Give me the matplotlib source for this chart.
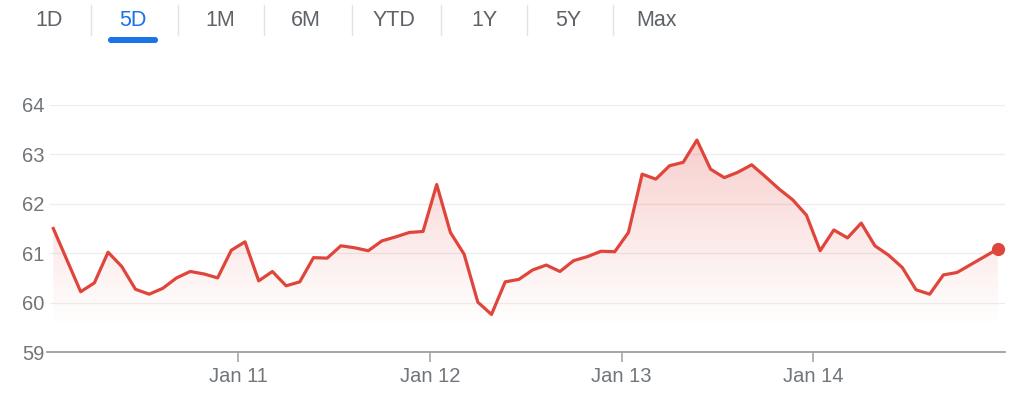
import numpy as np
import matplotlib
matplotlib.use("Agg")
import matplotlib.pyplot as plt
from matplotlib.patches import FancyBboxPatch, Polygon
from matplotlib.lines import Line2D
from matplotlib.transforms import IdentityTransform

# ---- data ----
prices = [61.50, 60.86, 60.22, 60.40, 61.02, 60.73, 60.27, 60.17, 60.29, 60.50,
          60.63, 60.58, 60.50, 61.06, 61.23, 60.44, 60.63, 60.34, 60.42, 60.91,
          60.90, 61.15, 61.11, 61.05, 61.25, 61.33, 61.42, 61.44, 62.39, 61.42,
          60.98, 60.01, 59.76, 60.42, 60.47, 60.66, 60.76, 60.63, 60.85, 60.93,
          61.04, 61.03, 61.42, 62.60, 62.50, 62.77, 62.84, 63.29, 62.70, 62.53,
          62.64, 62.79, 62.55, 62.30, 62.08, 61.77, 61.05, 61.47, 61.31, 61.61,
          61.15, 60.96, 60.71, 60.26, 60.17, 60.56, 60.61, 60.77, 60.93, 61.09]
points_per_day = 14
day_labels = ["Jan 11", "Jan 12", "Jan 13", "Jan 14"]
y_ticks = [59, 60, 61, 62, 63, 64]
tabs = ["1D", "5D", "1M", "6M", "YTD", "1Y", "5Y", "Max"]
active_tab = "5D"

# ---- style ----
W, H = 1024, 393
RED = "#e0453b"
GRAY_TXT = "#70757a"
TAB_TXT = "#5f6368"
BLUE = "#1a73e8"
plt.rcParams["font.family"] = ["Liberation Sans", "DejaVu Sans"]

fig = plt.figure(figsize=(W / 100, H / 100), dpi=100)
fig.patch.set_facecolor("white")

ax = fig.add_axes([47 / W, 41 / H, (1005 - 47) / W, (352 - 105) / H])
x = np.arange(len(prices))
y = np.array(prices)

ax.set_xlim(-0.46, len(prices) - 0.5)
ax.set_ylim(y_ticks[0], y_ticks[-1])

# grid lines
for v in y_ticks[1:]:
    ax.axhline(v, color="#ededed", lw=0.9, zorder=0, xmin=0.003)

# gradient fill
y0 = y_ticks[0]
ny = 256
ytop = y.max()
img_y = np.linspace(y0, ytop, ny)
alpha = np.clip((img_y - 59.5) / (ytop - 59.5), 0, 1) ** 1.1 * 0.26
rgba = np.zeros((ny, 2, 4))
rgba[..., 0] = 0.88
rgba[..., 1] = 0.27
rgba[..., 2] = 0.23
rgba[..., 3] = alpha[:, None]
im = ax.imshow(rgba, extent=[x[0], x[-1], y0, ytop], origin="lower",
               aspect="auto", zorder=1, interpolation="bilinear")
verts = np.vstack([[x[0], y0], np.column_stack([x, y]), [x[-1], y0]])
poly = Polygon(verts, closed=True, facecolor="none", edgecolor="none")
ax.add_patch(poly)
im.set_clip_path(poly)

ax.plot(x, y, color=RED, lw=2.3, zorder=3, solid_joinstyle="round")
ax.plot([x[-1]], [y[-1]], "o", color=RED, ms=8.5, zorder=4, clip_on=False)

# spines / ticks
for s in ["top", "right", "left"]:
    ax.spines[s].set_visible(False)
ax.spines["bottom"].set_color("#9aa0a6")
ax.spines["bottom"].set_linewidth(1.3)
ax.set_yticks(y_ticks)
ax.set_yticklabels([str(v) for v in y_ticks])
ax.tick_params(axis="y", length=0, pad=2, labelsize=14.5, labelcolor=GRAY_TXT)
tick_pos = [points_per_day * (k + 1) - 0.5 for k in range(len(day_labels))]
ax.set_xticks(tick_pos)
ax.set_xticklabels(day_labels)
ax.tick_params(axis="x", length=7.5, width=1.1, color="#9aa0a6", pad=3,
               labelsize=14.5, labelcolor=GRAY_TXT)

# tabs
tab_centers = [49, 133, 220, 306, 394, 484, 568, 657]
seps = [91, 178, 264, 352, 441, 527, 613]
for t, cx in zip(tabs, tab_centers):
    fig.text(cx / W, 1 - 20 / H, t, ha="center", va="center", fontsize=15.5,
             color=BLUE if t == active_tab else TAB_TXT)
for sx in seps:
    fig.add_artist(Line2D([sx / W, sx / W], [1 - 5 / H, 1 - 35 / H],
                          color="#e3e3e3", lw=1.0, transform=fig.transFigure))
ux = tab_centers[tabs.index(active_tab)]
fig.add_artist(FancyBboxPatch((ux - 25, H - 43), 50, 6,
                              boxstyle="round,pad=0,rounding_size=3",
                              transform=IdentityTransform(), facecolor=BLUE,
                              edgecolor="none"))

fig.savefig("out.png", dpi=100, facecolor="white")
